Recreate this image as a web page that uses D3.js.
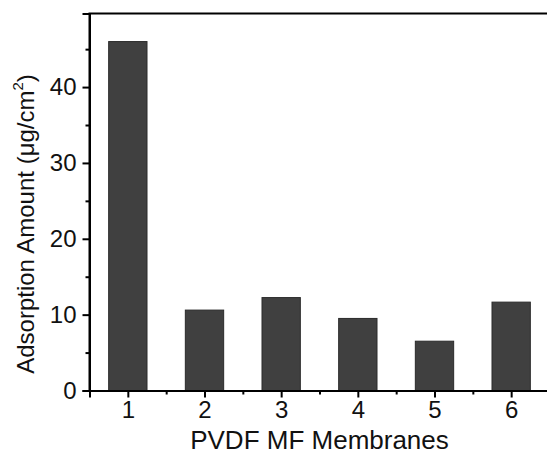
<!DOCTYPE html>
<html><head><meta charset="utf-8">
<script src="https://cdn.jsdelivr.net/npm/d3@7"></script>
<style>body{margin:0;background:#fff}svg{display:block}</style>
</head><body>
<script>
const categories = [1, 2, 3, 4, 5, 6];
const values = [46.0, 10.6, 12.25, 9.5, 6.5, 11.65];
const yTicks = [0, 10, 20, 30, 40];
const yMinorTicks = [5, 15, 25, 35, 45];
const xMinorTicks = [1.5, 2.5, 3.5, 4.5, 5.5];
const xTitle = "PVDF MF Membranes";

(function () {
const W = 547, H = 455;
const mLeft = 89.5, mTop = 13.5, mBottom = 390.5, mRight = 549.5;
const FONT = "'Liberation Sans', Arial, sans-serif";
const svg = d3.select("body").append("svg").attr("width", W).attr("height", H)
  .style("font-family", FONT);

const x = d3.scaleLinear().domain([0.5, 6.5]).range([mLeft, mRight]);
const y = d3.scaleLinear().domain([0, 49.7]).range([mBottom, mTop]);
const bw = (x(2) - x(1)) * 0.5;

svg.append("g").selectAll("rect").data(categories).join("rect")
  .attr("x", (d) => x(d) - bw / 2)
  .attr("y", (d, i) => y(values[i]))
  .attr("width", bw)
  .attr("height", (d, i) => y(0) - y(values[i]))
  .attr("fill", "#404040")
  .attr("stroke", "#2a2a2a")
  .attr("stroke-width", 1);

// frame
svg.append("path").attr("d", `M${mLeft},${mBottom}V${mTop}H${mRight}`)
  .attr("fill", "none").attr("stroke", "#000").attr("stroke-width", 2);

svg.append("g").attr("transform", `translate(${mLeft},0)`)
  .call(d3.axisLeft(y).tickValues(yTicks).tickSize(7).tickPadding(6).tickFormat(d3.format("d")));
svg.append("g").attr("transform", `translate(${mLeft},0)`)
  .call(d3.axisLeft(y).tickValues(yMinorTicks).tickSize(4).tickFormat(""));

svg.append("g").attr("transform", `translate(0,${mBottom})`)
  .call(d3.axisBottom(x).tickValues(categories).tickSize(7).tickPadding(3).tickFormat(d3.format("d")));
svg.append("g").attr("transform", `translate(0,${mBottom})`)
  .call(d3.axisBottom(x).tickValues(xMinorTicks).tickSize(4).tickFormat(""));

svg.selectAll(".domain").attr("stroke", "#000").attr("stroke-width", 2);
svg.selectAll(".tick line").attr("stroke", "#000").attr("stroke-width", 2);
svg.selectAll(".tick text").attr("font-size", 24).attr("fill", "#111")
  .attr("font-family", FONT);

svg.append("text").attr("x", (x(1) + x(6)) / 2).attr("y", 449)
  .attr("text-anchor", "middle").attr("font-size", 26).attr("fill", "#111")
  .text(xTitle);

const yl = svg.append("text")
  .attr("transform", "translate(34,224) rotate(-90)")
  .attr("text-anchor", "middle").attr("font-size", 24).attr("fill", "#111");
yl.append("tspan").text("Adsorption Amount (\u03bcg/cm");
yl.append("tspan").attr("font-size", 15).attr("dy", -11).text("2");
yl.append("tspan").attr("dy", 11).text(")");
})();
</script>
</body></html>
